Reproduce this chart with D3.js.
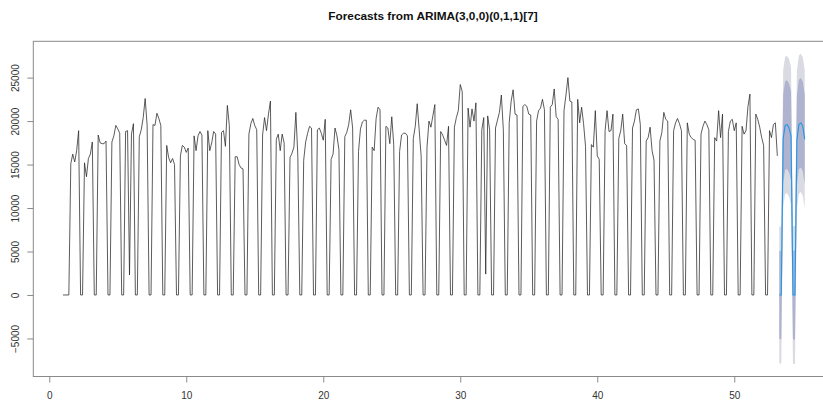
<!DOCTYPE html>
<html>
<head>
<meta charset="utf-8">
<script src="https://cdn.jsdelivr.net/npm/d3@7"></script>
<style>
  body { margin: 0; background: #fff; }
  svg { display: block; }
  text { font-family: "Liberation Sans", Arial, Helvetica, sans-serif; }
</style>
</head>
<body>
<svg id="chart" width="823" height="400"></svg>
<script>
// Daily series, weekly seasonality (frequency 7), starting at time 1
const startTime = 1;
const frequency = 7;

const observed = [
  0, 0, 0, 0,
  15100, 16200, 15300, 16600, 18900, 0, 0,
  15200, 13600, 15700, 16200, 17600, 0, 0,
  18400, 17500, 17400, 17400, 17700, 0, 0,
  17600, 18300, 19500, 19100, 18600, 0, 0,
  18800, 18900, 2300, 18500, 19700, 0, 0,
  18200, 19000, 20400, 22600, 19500, 0, 0,
  19600, 19500, 20900, 20300, 19500, 0, 0,
  17200, 15800, 15200, 15700, 15000, 0, 0,
  16000, 17200, 17000, 16400, 16900, 0, 0,
  18300, 16600, 18300, 18800, 18400, 0, 0,
  18900, 16600, 17500, 18800, 18500, 0, 0,
  18700, 18900, 17100, 21800, 19500, 0, 0,
  15900, 15900, 15000, 14600, 14500, 0, 0,
  18500, 19700, 20300, 19500, 19000, 0, 0,
  18400, 20400, 18900, 20800, 22300, 0, 0,
  17900, 18500, 16600, 18500, 17500, 0, 0,
  15800, 16300, 17000, 21000, 16000, 0, 0,
  15500, 17600, 18600, 19400, 19200, 0, 0,
  19000, 19200, 18600, 17800, 20200, 0, 0,
  15600, 16200, 19200, 18300, 16700, 0, 0,
  18200, 18700, 19600, 21300, 19200, 0, 0,
  16500, 19100, 19900, 20100, 20100, 0, 0,
  17000, 16600, 20300, 21600, 21300, 0, 0,
  19400, 19200, 17400, 20500, 17300, 0, 0,
  16500, 18400, 18600, 18600, 18300, 0, 0,
  18000, 19400, 22000, 19000, 16000, 0, 0,
  17000, 20000, 19300, 20600, 21900, 0, 0,
  18800, 18400, 17800, 17200, 19400, 0, 0,
  19300, 20400, 21200, 24200, 23400, 0, 0,
  21500, 19300, 21400, 20000, 22100, 0, 0,
  19000, 20400, 2400, 20600, 19000, 0, 0,
  19200, 20100, 21000, 23000, 19000, 0, 0,
  19800, 22300, 23600, 20800, 20700, 0, 0,
  21700, 21900, 21700, 20800, 20700, 0, 0,
  20000, 21200, 21500, 22500, 21300, 0, 0,
  21600, 21900, 23700, 20500, 20200, 0, 0,
  21200, 23000, 25000, 22300, 22200, 0, 0,
  22500, 19800, 21600, 19700, 17100, 0, 0,
  17300, 17000, 21200, 16000, 15600, 0, 0,
  18900, 21200, 18800, 18900, 20800, 0, 0,
  18000, 18900, 20800, 17400, 17200, 0, 0,
  19200, 20000, 21300, 21400, 19600, 0, 0,
  17700, 18100, 19300, 16600, 15500, 0, 0,
  17700, 18700, 21000, 20200, 20000, 0, 0,
  18900, 19800, 20300, 19700, 18900, 0, 0,
  19800, 18500, 18100, 17900, 17800, 0, 0,
  18500, 19400, 20000, 19600, 19000, 0, 0,
  18100, 17700, 21200, 18100, 20800, 0, 0,
  18800, 20000, 20200, 18900, 19800, 0, 0,
  19400, 18500, 18900, 21700, 23100, 0, 0,
  20800, 20200, 19300, 18100, 17200, 0, 0,
  18900, 18100, 19600, 19800, 16000
];

// 14-day forecast with 80% and 95% prediction intervals
const forecastMean = [0, 0, 18000, 19500, 19600, 19200, 18300, 0, 0, 17800, 19600, 19800, 19400, 17900];
const lower80 = [-5050, -5100, 12900, 14400, 14500, 14100, 13200, -5100, -5150, 12650, 14450, 14650, 14250, 12750];
const upper80 = [5050, 5100, 23100, 24600, 24700, 24300, 23400, 5100, 5150, 22950, 24750, 24950, 24550, 23050];
const lower95 = [-7850, -7900, 10100, 11600, 11700, 11300, 10400, -7900, -7950, 9850, 11650, 11850, 11450, 9950];
const upper95 = [7850, 7900, 25900, 27400, 27500, 27100, 26200, 7900, 7950, 25750, 27550, 27750, 27350, 25850];

const xTicks = [0, 10, 20, 30, 40, 50];
const yTicks = [-5000, 0, 5000, 10000, 15000, 20000, 25000];
const chartTitle = "Forecasts from ARIMA(3,0,0)(0,1,1)[7]";

const svg = d3.select("#chart");
const plot = { left: 33.3, top: 41.3, bottom: 376.5, right: 834.4 };

const obsTime = observed.map((_, i) => startTime + i / frequency);
const fcTime = forecastMean.map((_, i) => startTime + (observed.length + i) / frequency);

// R-style 4% padded ranges
function padded(ext) {
  const p = (ext[1] - ext[0]) * 0.04;
  return [ext[0] - p, ext[1] + p];
}
const xDomain = padded([obsTime[0], fcTime[fcTime.length - 1]]);
const yDomain = padded(d3.extent([...observed, ...lower95, ...upper95]));

const x = d3.scaleLinear().domain(xDomain).range([plot.left, plot.right]);
const y = d3.scaleLinear().domain(yDomain).range([plot.bottom, plot.top]);

// prediction interval bands
const fc = forecastMean.map((m, i) => ({ t: fcTime[i], m, l80: lower80[i], u80: upper80[i], l95: lower95[i], u95: upper95[i] }));
svg.append("path")
  .datum(fc)
  .attr("fill", "#dadae2")
  .attr("d", d3.area().x(d => x(d.t)).y0(d => y(d.l95)).y1(d => y(d.u95)));
svg.append("path")
  .datum(fc)
  .attr("fill", "#b0b3d0")
  .attr("d", d3.area().x(d => x(d.t)).y0(d => y(d.l80)).y1(d => y(d.u80)));

// observed series
svg.append("path")
  .datum(observed)
  .attr("fill", "none")
  .attr("stroke", "#262626")
  .attr("stroke-width", 0.75)
  .attr("stroke-linejoin", "round")
  .attr("d", d3.line().x((d, i) => x(obsTime[i])).y(d => y(d)));

// point forecasts
svg.append("path")
  .datum(fc)
  .attr("fill", "none")
  .attr("stroke", "#2297E6")
  .attr("stroke-width", 1.1)
  .attr("stroke-linejoin", "round")
  .attr("d", d3.line().x(d => x(d.t)).y(d => y(d.m)));

// frame
svg.append("rect")
  .attr("x", plot.left).attr("y", plot.top)
  .attr("width", plot.right - plot.left).attr("height", plot.bottom - plot.top)
  .attr("fill", "none").attr("stroke", "#8a8a8a").attr("stroke-width", 1);

// x axis
const xAxis = svg.append("g").attr("transform", `translate(0,${plot.bottom})`)
  .call(d3.axisBottom(x).tickValues(xTicks).tickSize(6).tickPadding(9).tickFormat(d3.format("d")));
xAxis.select(".domain").remove();
xAxis.selectAll("line").attr("stroke", "#8a8a8a");
xAxis.selectAll("text").attr("font-size", "10px").attr("fill", "#333")
  .attr("font-family", "'Liberation Sans', Arial, sans-serif");

// y axis with rotated labels
const yAxis = svg.append("g").attr("transform", `translate(${plot.left},0)`)
  .call(d3.axisLeft(y).tickValues(yTicks).tickSize(6).tickFormat(d3.format("d")));
yAxis.select(".domain").remove();
yAxis.selectAll("line").attr("stroke", "#8a8a8a");
yAxis.selectAll("text")
  .attr("font-size", "10px").attr("fill", "#333")
  .attr("font-family", "'Liberation Sans', Arial, sans-serif")
  .attr("text-anchor", "middle")
  .attr("x", null).attr("dy", null)
  .attr("transform", "translate(-14.8,0) rotate(-90)");

// title
svg.append("text")
  .attr("x", 433).attr("y", 20)
  .attr("text-anchor", "middle")
  .attr("font-weight", "bold")
  .attr("font-size", "11.8px")
  .attr("fill", "#111")
  .text(chartTitle);
</script>
</body>
</html>
